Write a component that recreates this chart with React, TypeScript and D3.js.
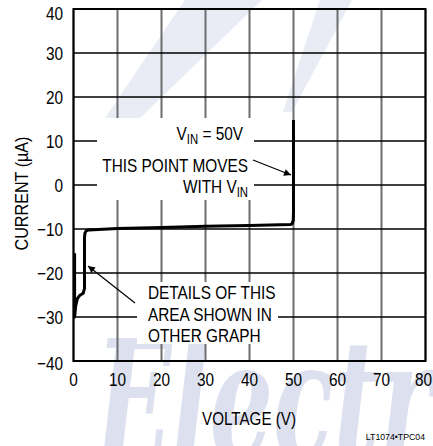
import React from "react";
import * as d3 from "d3";

const xTicks = [0, 10, 20, 30, 40, 50, 60, 70, 80];
const yTicks = [-40, -30, -20, -10, 0, 10, 20, 30, 40];
const voltage = [0.25, 0.25, 0.5, 0.9, 1.4, 2.2, 2.5, 2.5, 2.6, 2.9, 3.5, 10, 20, 30, 40, 47, 49.3, 49.7, 49.95, 50, 50];
const current = [-15.5, -30, -27.5, -25.8, -25.1, -24.6, -23.5, -12, -10.9, -10.4, -10.2, -9.9, -9.65, -9.4, -9.2, -9.05, -9.0, -8.8, -8.0, -6, 14.8];

const W = 433, H = 446;
const FONT = "'Liberation Sans', Arial, Helvetica, sans-serif";
const SX = 0.81;

function T(props: { x: number; y: number; anchor?: string; size?: number; sx?: number; rot?: number; children: React.ReactNode }) {
  const { x, y, anchor = "start", size = 19, sx = SX, rot = 0, children } = props;
  return (
    <text transform={`translate(${x},${y}) rotate(${rot}) scale(${sx},1)`} textAnchor={anchor} fontSize={size} fill="#000">
      {children}
    </text>
  );
}

export default function App() {
  const x = d3.scaleLinear().domain([0, 80]).range([73.5, 425.5]);
  const y = d3.scaleLinear().domain([-40, 40]).range([361, 9]);
  const pts: [number, number][] = voltage.map((v, i) => [v, current[i]]);
  const line = d3.line<[number, number]>().x(d => x(d[0])).y(d => y(d[1]));

  return (
    <svg width={W} height={H} style={{ position: "absolute", left: 0, top: 0, background: "#fff" }} fontFamily={FONT}>
      <rect x={0} y={0} width={W} height={H} fill="#fff" />
      {/* watermark */}
      <g fill="#e9ebf5">
        <polygon points="185,0 262,0 140,118 105,118" />
        <polygon points="320,0 352,0 292,112 283,112" />
      </g>
      <text x={96} y={458} fontSize={165} fontStyle="italic" fontWeight="bold" fill="#dde0ef" fontFamily="'DejaVu Serif', 'Liberation Serif', serif" textLength={336} lengthAdjust="spacingAndGlyphs">Electr</text>
      {/* grid */}
      {xTicks.map(t => (
        <line key={"vx" + t} x1={x(t)} x2={x(t)} y1={y(-40)} y2={y(40)} stroke="#6e6e6e" strokeWidth={2} />
      ))}
      {yTicks.map(t => (
        <line key={"hy" + t} x1={x(0)} x2={x(80)} y1={y(t)} y2={y(t)} stroke="#000" strokeWidth={1.3} />
      ))}
      {/* annotation boxes */}
      <rect x={97} y={118} width={157} height={82} fill="#fff" />
      <rect x={137} y={282} width={141} height={62} fill="#fff" />
      {/* frame */}
      <rect x={x(0)} y={y(40)} width={x(80) - x(0)} height={y(-40) - y(40)} fill="none" stroke="#000" strokeWidth={2} />
      {/* curve */}
      <path d={line(pts) || ""} fill="none" stroke="#000" strokeWidth={3} strokeLinejoin="round" />
      {/* arrows */}
      <defs>
        <marker id="ah" viewBox="0 0 10 10" refX={10} refY={5} markerWidth={15} markerHeight={7} markerUnits="userSpaceOnUse" orient="auto">
          <path d="M0,0 L10,5 L0,10 z" fill="#000" />
        </marker>
      </defs>
      <line x1={253} y1={160} x2={291} y2={175} stroke="#000" strokeWidth={1.2} markerEnd="url(#ah)" />
      <line x1={135} y1={303} x2={88} y2={266} stroke="#000" strokeWidth={1.2} markerEnd="url(#ah)" />
      {/* annotation text */}
      <T x={243} y={140} anchor="end">V<tspan fontSize={14} dy={4}>IN</tspan><tspan dy={-4}> = 50V</tspan></T>
      <T x={248} y={172} anchor="end">THIS POINT MOVES</T>
      <T x={248} y={193} anchor="end">WITH V<tspan fontSize={14} dy={4}>IN</tspan></T>
      <T x={148} y={299}>DETAILS OF THIS</T>
      <T x={148} y={321}>AREA SHOWN IN</T>
      <T x={148} y={342}>OTHER GRAPH</T>
      {/* tick labels */}
      {yTicks.map(t => (
        <T key={"yl" + t} x={63} y={y(t) + (t === 40 ? 11 : t === -40 ? 9 : 7)} anchor="end" size={18.5} sx={0.83}>
          {t < 0 ? "\u2212" + Math.abs(t) : String(t)}
        </T>
      ))}
      {xTicks.map(t => (
        <T key={"xl" + t} x={x(t) + (t === 80 ? -2 : 0)} y={386} anchor="middle" size={18.5} sx={0.83}>{String(t)}</T>
      ))}
      <T x={249} y={425} anchor="middle" size={19} sx={0.8}>VOLTAGE (V)</T>
      <T x={28} y={193.5} anchor="middle" size={19} sx={0.85} rot={-90}>CURRENT (µA)</T>
      <T x={425} y={440} anchor="end" size={9.5} sx={0.92}>LT1074•TPC04</T>
    </svg>
  );
}
